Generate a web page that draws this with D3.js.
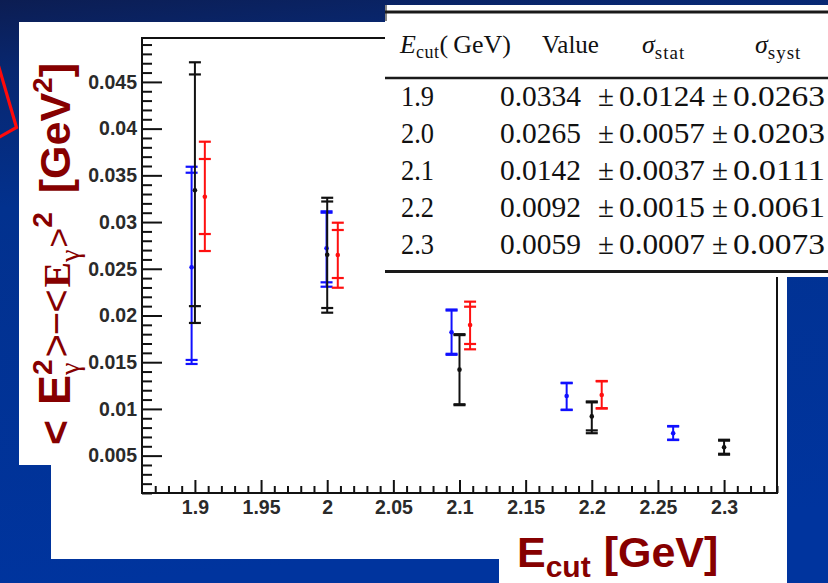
<!DOCTYPE html>
<html>
<head>
<meta charset="utf-8">
<script src="https://cdn.jsdelivr.net/npm/d3@7"></script>
<style>
  html, body { margin: 0; padding: 0; overflow: hidden; background: #062a78; }
  svg { display: block; }
</style>
</head>
<body>
<svg id="chart" width="828" height="583"></svg>
<script>
// ---- Photon-energy moment <E^2> - <E>^2 versus the energy cut ----
const cuts      = [1.9, 2.0, 2.1, 2.2, 2.3];
const cutLabels = ["1.9", "2.0", "2.1", "2.2", "2.3"];
const values    = [0.0334, 0.0265, 0.0142, 0.0092, 0.0059];
const statErr   = [0.0124, 0.0057, 0.0037, 0.0015, 0.0007];
const systErr   = [0.0263, 0.0203, 0.0111, 0.0061, 0.0073];
// outer error bars drawn on the black points (upper, lower half-lengths)
const blackOuterUp   = [0.0137, 0.0061, 0.0038, 0.0016, 0.0008];
const blackOuterDown = [0.0142, 0.0062, 0.0038, 0.0018, 0.0008];

// blue measurement
const blueX       = [1.8975, 1.9995, 2.094, 2.181, 2.2615];
const blueVal     = [0.02516, 0.02719, 0.0182, 0.01138, 0.00739];
const blueInnerHi = [0.03528, 0.03100, 0.02053, 0.01275, 0.00812];
const blueInnerLo = [0.01524, 0.02355, 0.01590, 0.00992, 0.00671];
const blueOuterHi = [0.03592, 0.03115, 0.02064, 0.01280, 0.00817];
const blueOuterLo = [0.01481, 0.02308, 0.01579, 0.00988, 0.00667];

// red measurement
const redX       = [1.9075, 2.008, 2.108, 2.2075];
const redVal     = [0.03271, 0.02647, 0.01898, 0.01149];
const redInnerHi = [0.03675, 0.02915, 0.02094, 0.01295];
const redInnerLo = [0.02872, 0.02401, 0.01695, 0.01008];
const redOuterHi = [0.03860, 0.02993, 0.02148, 0.01299];
const redOuterLo = [0.02690, 0.02297, 0.01638, 0.01004];

// axes
const xDomain     = [1.86, 2.34];
const yDomain     = [0.001, 0.0497];
const xTickValues = [1.9, 1.95, 2.0, 2.05, 2.1, 2.15, 2.2, 2.25, 2.3];
const xTickLabels = ["1.9", "1.95", "2", "2.05", "2.1", "2.15", "2.2", "2.25", "2.3"];
const yTickValues = [0.005, 0.01, 0.015, 0.02, 0.025, 0.03, 0.035, 0.04, 0.045];
const yTickLabels = ["0.005", "0.01", "0.015", "0.02", "0.025", "0.03", "0.035", "0.04", "0.045"];

// table header
const tableHeader = ["Ecut(GeV)", "Value", "σstat", "σsyst"];

const SANS  = "'Liberation Sans', Arial, Helvetica, sans-serif";
const SERIF = "'Liberation Serif', 'Times New Roman', serif";
const TITLE_RED = "#860000";

const svg = d3.select("#chart");
const W = 828, H = 583;

// ---- slide background ----
const defs = svg.append("defs");
const grad = defs.append("linearGradient").attr("id", "bg")
  .attr("x1", 0).attr("y1", 0).attr("x2", 0.15).attr("y2", 1);
[[0, "#0c1d52"], [0.12, "#082770"], [0.35, "#02318e"], [1, "#00349e"]]
  .forEach(([o, c]) => grad.append("stop").attr("offset", o).attr("stop-color", c));
svg.append("rect").attr("width", W).attr("height", H).attr("fill", "url(#bg)");

// red callout frame peeking out on the left
svg.append("path")
  .attr("d", "M -2 64 L 16.5 127.5 L -4 139")
  .attr("fill", "none").attr("stroke", "#ff0a0a").attr("stroke-width", 3.2)
  .attr("stroke-linejoin", "miter");

// ---- white panels ----
svg.append("rect").attr("x", 19).attr("y", 22).attr("width", 120).attr("height", 443).attr("fill", "#ffffff");
svg.append("rect").attr("x", 51).attr("y", 22).attr("width", 736).attr("height", 537).attr("fill", "#ffffff");
svg.append("rect").attr("x", 499).attr("y", 519).attr("width", 288).attr("height", 64).attr("fill", "#ffffff");

// ---- plot frame and scales ----
const plot = { left: 142, right: 777, top: 38, bottom: 493 };
const x = d3.scaleLinear().domain(xDomain).range([plot.left, plot.right]);
const y = d3.scaleLinear().domain(yDomain).range([plot.bottom, plot.top]);

const r3 = v => Math.round(v * 1000) / 1000;
const xMinor = d3.range(1.87, 2.345, 0.01).map(r3).filter(v => !xTickValues.some(t => Math.abs(t - v) < 1e-6));
const yMinor = d3.range(0.001, 0.0495, 0.001).map(v => Math.round(v * 10000) / 10000)
  .filter(v => !yTickValues.some(t => Math.abs(t - v) < 1e-7));

const axisG = svg.append("g");

// x axis (ticks point into the frame)
axisG.append("g").attr("transform", `translate(0,${plot.bottom})`)
  .call(d3.axisBottom(x).tickValues(xTickValues).tickFormat((d, i) => xTickLabels[i])
        .tickSizeInner(-13).tickSizeOuter(0).tickPadding(7));
axisG.append("g").attr("transform", `translate(0,${plot.bottom})`)
  .call(d3.axisBottom(x).tickValues(xMinor).tickFormat("").tickSizeInner(-7).tickSizeOuter(0));

// y axis
axisG.append("g").attr("transform", `translate(${plot.left},0)`)
  .call(d3.axisLeft(y).tickValues(yTickValues).tickFormat((d, i) => yTickLabels[i])
        .tickSizeInner(-20).tickSizeOuter(0).tickPadding(5));
axisG.append("g").attr("transform", `translate(${plot.left},0)`)
  .call(d3.axisLeft(y).tickValues(yMinor).tickFormat("").tickSizeInner(-10).tickSizeOuter(0));

axisG.selectAll(".domain").remove();
axisG.selectAll(".tick line").attr("stroke", "#111").attr("stroke-width", 2);
axisG.selectAll(".tick text")
  .attr("font-family", SANS).attr("font-weight", "bold").attr("font-size", 19.5)
  .attr("fill", "#2a2a2a");

// frame
svg.append("rect")
  .attr("x", plot.left).attr("y", plot.top)
  .attr("width", plot.right - plot.left).attr("height", plot.bottom - plot.top)
  .attr("fill", "none").attr("stroke", "#111").attr("stroke-width", 2);

// ---- error-bar series ----
const CAP = 6;
function drawSeries(rows, color) {
  const g = svg.append("g").attr("stroke", color).attr("fill", color);
  const sel = g.selectAll("g.pt").data(rows).join("g").attr("class", "pt");
  sel.append("line")
    .attr("x1", d => x(d.x)).attr("x2", d => x(d.x))
    .attr("y1", d => y(d.outerHi)).attr("y2", d => y(d.outerLo))
    .attr("stroke-width", 2);
  ["innerHi", "innerLo", "outerHi", "outerLo"].forEach(k => {
    sel.append("line")
      .attr("x1", d => x(d.x) - CAP).attr("x2", d => x(d.x) + CAP)
      .attr("y1", d => y(d[k])).attr("y2", d => y(d[k]))
      .attr("stroke-width", 2.2);
  });
  sel.append("circle")
    .attr("cx", d => x(d.x)).attr("cy", d => y(d.v)).attr("r", 2.3)
    .attr("stroke", "none");
}

const blackRows = cuts.map((c, i) => ({
  x: c, v: values[i],
  innerHi: values[i] + statErr[i], innerLo: values[i] - statErr[i],
  outerHi: values[i] + blackOuterUp[i], outerLo: values[i] - blackOuterDown[i]
}));
const blueRows = blueX.map((c, i) => ({
  x: c, v: blueVal[i], innerHi: blueInnerHi[i], innerLo: blueInnerLo[i],
  outerHi: blueOuterHi[i], outerLo: blueOuterLo[i]
}));
const redRows = redX.map((c, i) => ({
  x: c, v: redVal[i], innerHi: redInnerHi[i], innerLo: redInnerLo[i],
  outerHi: redOuterHi[i], outerLo: redOuterLo[i]
}));

drawSeries(blueRows, "#1010ff");
drawSeries(redRows, "#ff1010");
drawSeries(blackRows, "#111111");

// ---- results table ----
const table = svg.append("g");
table.append("rect").attr("x", 385).attr("y", 5).attr("width", 450).attr("height", 272).attr("fill", "#ffffff");
table.append("line").attr("x1", 386).attr("x2", 386).attr("y1", 5).attr("y2", 21)
  .attr("stroke", "#333").attr("stroke-width", 1.2);
[[12, 3], [78, 2.6], [271.5, 3]].forEach(([yy, w]) =>
  table.append("line").attr("x1", 385).attr("x2", W).attr("y1", yy).attr("y2", yy)
    .attr("stroke", "#1a1a1a").attr("stroke-width", w));

const header = table.append("g").attr("font-family", SERIF).attr("font-size", 26).attr("fill", "#111");
const hdrY = 53;
// E_cut(GeV)
const h0 = header.append("text").attr("x", 400).attr("y", hdrY);
h0.append("tspan").attr("font-style", "italic").text(tableHeader[0].slice(0, 1));
h0.append("tspan").attr("font-size", 18).attr("dy", 5).attr("letter-spacing", 0.5).text(tableHeader[0].slice(1, 4));
h0.append("tspan").attr("dy", -5).text("(\u2009" + tableHeader[0].slice(5));
header.append("text").attr("x", 542).attr("y", hdrY).attr("font-size", 25).text(tableHeader[1]);
[[642, tableHeader[2]], [755, tableHeader[3]]].forEach(([xx, s]) => {
  const t = header.append("text").attr("x", xx).attr("y", hdrY);
  t.append("tspan").attr("font-style", "italic").text(s.slice(0, 1));
  t.append("tspan").attr("font-size", 19).attr("dy", 6).attr("letter-spacing", 1).text(s.slice(1));
});

const rowY = d3.scalePoint().domain(cutLabels).range([106, 254]);
const fmt = d3.format(".4f");
const body = table.append("g").attr("font-family", SERIF).attr("font-size", 29).attr("fill", "#111");
const cell = (xx, yy, s, len) => {
  const t = body.append("text").attr("x", xx).attr("y", yy).text(s);
  if (len) t.attr("textLength", len).attr("lengthAdjust", "spacingAndGlyphs");
};
cutLabels.forEach((lab, i) => {
  const yy = rowY(lab);
  cell(401, yy, lab, 33);
  cell(500, yy, fmt(values[i]), 81);
  cell(598, yy, "±");
  cell(619, yy, fmt(statErr[i]), 86);
  cell(712, yy, "±");
  cell(733, yy, fmt(systErr[i]), 92);
});

// ---- axis titles ----
// x title: E_cut [GeV]
const xt = svg.append("text").attr("x", 517).attr("y", 567)
  .attr("font-family", SANS).attr("font-weight", "bold").attr("font-size", 43).attr("fill", TITLE_RED);
xt.append("tspan").text("E");
xt.append("tspan").attr("font-size", 30).attr("dy", 10).text("cut");
xt.append("tspan").attr("dy", -10).attr("dx", 13).text("[GeV]");

// y title: < E_γ^2 > − < E_γ >^2 [GeV^2], laid out piece by piece along the rotated baseline
const yTitleParts = [
  { t: "<",  size: 43, weight: "bold",   family: SANS,  dy: 0,   gap: 15 },
  { t: "E",  size: 45, weight: "bold",   family: SANS,  dy: 0,   gap: 0 },
  { t: "2",  size: 28, weight: "bold",   family: SANS,  dy: -18, gap: 0, noAdvance: true },
  { t: "γ",  size: 28, weight: "normal", family: SERIF, dy: 9,   gap: 5 },
  { t: ">",  size: 40, weight: "normal", family: SANS,  dy: 0,   gap: -1 },
  { t: "−",  size: 40, weight: "normal", family: SANS,  dy: 0,   gap: -1 },
  { t: "<",  size: 40, weight: "normal", family: SANS,  dy: 0,   gap: 2 },
  { t: "E",  size: 38, weight: "bold",   family: SERIF, dy: 0,   gap: 0 },
  { t: "γ",  size: 28, weight: "normal", family: SERIF, dy: 9,   gap: 2 },
  { t: ">",  size: 34, weight: "normal", family: SANS,  dy: 0,   gap: 0 },
  { t: "2",  size: 28, weight: "bold",   family: SANS,  dy: -18, gap: 19 },
  { t: "[GeV", size: 43, weight: "bold", family: SANS,  dy: 0,   gap: 0 },
  { t: "2",  size: 28, weight: "bold",   family: SANS,  dy: -18, gap: 0 },
  { t: "]",  size: 43, weight: "bold",   family: SANS,  dy: 0,   gap: 0 }
];
const yTitle = svg.append("g").attr("transform", "translate(70,0) rotate(-90)").attr("fill", TITLE_RED);
let cursor = 0;
const placed = yTitleParts.map(p => {
  const el = yTitle.append("text")
    .attr("font-family", p.family).attr("font-weight", p.weight).attr("font-size", p.size)
    .attr("y", p.dy).text(p.t);
  const w = el.node().getComputedTextLength();
  const item = { el, at: cursor };
  if (!p.noAdvance) cursor += w + p.gap;
  return item;
});
const totalLen = cursor;
const startAt = -254 - totalLen / 2;
placed.forEach(p => p.el.attr("x", startAt + p.at));
</script>
</body>
</html>
